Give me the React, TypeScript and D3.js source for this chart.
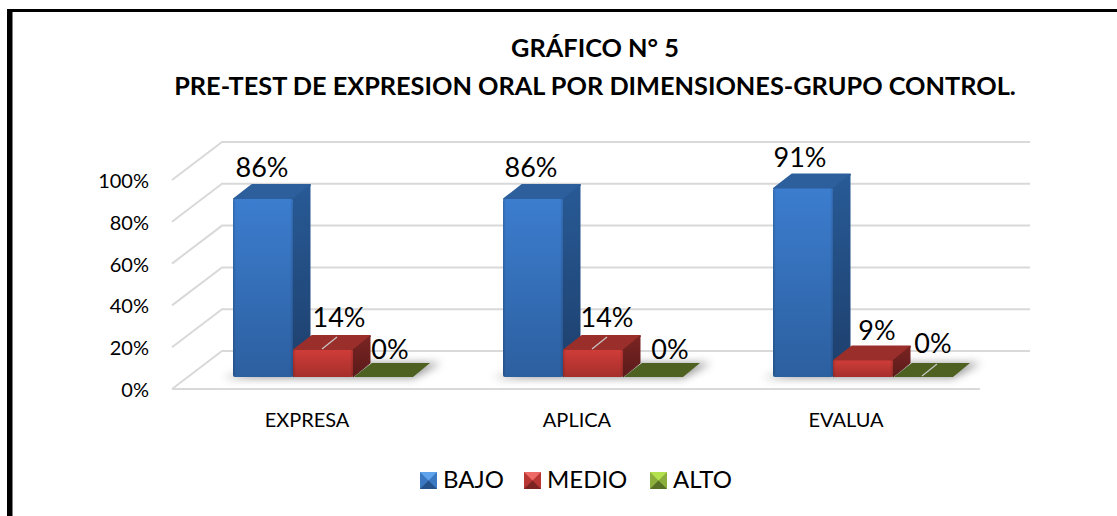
import React from "react";
import * as d3 from "d3";

const categories = ["EXPRESA", "APLICA", "EVALUA"];
const seriesNames = ["BAJO", "MEDIO", "ALTO"];
const bajo = [86, 86, 91];
const medio = [14, 14, 9];
const alto = [0, 0, 0];
const seriesValues = [bajo, medio, alto];
const yTicks = [0, 20, 40, 60, 80, 100];
const titleLines = ["GRÁFICO N° 5", "PRE-TEST DE EXPRESION ORAL POR DIMENSIONES-GRUPO CONTROL."];
const font = "Lato, 'Open Sans', sans-serif";

const x0 = d3.scaleBand<string>().domain(categories).range([172, 982]);
const yFront = d3.scaleLinear().domain([0, 100]).range([389, 180]);
const DX = 50, DY = -38;
const bx = d3.scaleBand<string>().domain(seriesNames).range([0, 180]);
const BASE = 377;
const barY = d3.scaleLinear().domain([0, 100]).range([379.4, 169.7]);
const bdx = 18, bdy = -14;
const frontFill = ["url(#blue)", "url(#red)", "#4e6120"];
const sideFill = ["url(#blueS)", "url(#redS)", "#4e6120"];
const topFill = ["#2c5f9c", "#9a2e2a", "#4e6120"];
const legendTop = ["#5ea3ec", "#ee6a66", "#b4e24e"];
const legendSide = ["#3a78c2", "#b83633", "#8bae3c"];
const legendBottom = ["#24518a", "#7c2422", "#586f26"];
const legendX = [420, 524, 650];
// per category, per series: label offset from the bar's centre / top
const labelOffsets = [
  [[-1, -8], [16, -9], [7, -4]],
  [[-2, -8], [14, -9], [17, -4]],
  [[-3, -8], [14, -7], [10, -10]],
];

export default function App() {
  const groupX = (c: string) => (x0(c) as number) + 61;
  const top = (v: number) => Math.min(BASE, barY(v));
  return (
    <svg width={1117} height={516} style={{ position: "absolute", left: 0, top: 0, background: "#fff", fontFamily: font }}>
      <defs>
        <linearGradient id="blue" x1="0" y1="0" x2="0" y2="1"><stop offset="0" stopColor="#3c7dcf" /><stop offset="1" stopColor="#2c5f9f" /></linearGradient>
        <linearGradient id="blueS" x1="0" y1="0" x2="0" y2="1"><stop offset="0" stopColor="#285a96" /><stop offset="1" stopColor="#1d3f6c" /></linearGradient>
        <linearGradient id="red" x1="0" y1="0" x2="0" y2="1"><stop offset="0" stopColor="#cf3c38" /><stop offset="1" stopColor="#a52f2c" /></linearGradient>
        <linearGradient id="redS" x1="0" y1="0" x2="0" y2="1"><stop offset="0" stopColor="#7a2422" /><stop offset="1" stopColor="#5a1b1a" /></linearGradient>
        <linearGradient id="edge" x1="0" y1="0" x2="1" y2="0">
          <stop offset="0" stopColor="#000" stopOpacity="0.16" /><stop offset="0.05" stopColor="#000" stopOpacity="0" />
          <stop offset="0.95" stopColor="#000" stopOpacity="0" /><stop offset="1" stopColor="#000" stopOpacity="0.16" />
        </linearGradient>
        <filter id="blur" x="-30%" y="-100%" width="160%" height="300%"><feGaussianBlur stdDeviation="4" /></filter>
      </defs>
      <rect x={7} y={9} width={1110} height={3} fill="#000" />
      <rect x={7} y={9} width={5.5} height={507} fill="#000" />
      {titleLines.map((t, i) => (
        <text key={t} x={595} y={57 + i * 38} textAnchor="middle" fontSize={25.3} fontWeight={700} fill="#000">{t}</text>
      ))}
      {yTicks.map((t) => {
        const y = yFront(t);
        return (
          <g key={t}>
            <polyline points={`172,${y} ${172 + DX},${y + DY} 1030,${y + DY}`} fill="none" stroke="#d9d9d9" strokeWidth={2} />
            <text x={149} y={y + 8} textAnchor="end" fontSize={20} fill="#000">{d3.format(".0f")(t)}%</text>
          </g>
        );
      })}
      <line x1={172} x2={980} y1={yFront(0)} y2={yFront(0)} stroke="#d9d9d9" strokeWidth={2} />
      {categories.map((c, ci) => {
        const gx = groupX(c);
        const left = gx, right = gx + 180;
        return (
          <g key={c}>
            <polygon points={`${left - 10},${BASE + 1} ${right},${BASE + 1} ${right + bdx + 10},${BASE + bdy} ${left + 50},${BASE + bdy}`} fill="#444" opacity={0.55} filter="url(#blur)" />
            {[...seriesNames.keys()].map((si) => {
              const s = seriesNames[si];
              const v = seriesValues[si][ci];
              const x = gx + (bx(s) as number);
              const w = bx.bandwidth();
              const y = top(v);
              const h = BASE - y;
              return (
                <g key={s}>
                  <polygon points={`${x + 1},${y} ${x + bdx + 1},${y + bdy} ${x + w + bdx - 1},${y + bdy} ${x + w},${y}`} fill={topFill[si]} stroke={topFill[si]} strokeWidth={h > 0 ? 2 : 0} strokeLinejoin="round" />
                  {h > 0 && <polygon points={`${x + w},${y} ${x + w + bdx - 1},${y + bdy} ${x + w + bdx - 1},${BASE + bdy} ${x + w},${BASE}`} fill={sideFill[si]} stroke={sideFill[si]} strokeWidth={1} strokeLinejoin="round" />}
                  {h > 0 && <rect x={x} y={y} width={w} height={h} rx={2} fill={frontFill[si]} />}
                  {h > 0 && <rect x={x} y={y} width={w} height={h} rx={2} fill="url(#edge)" />}
                </g>
              );
            })}
            {[...seriesNames.keys()].map((si) => {
              const s = seriesNames[si];
              const v = seriesValues[si][ci];
              const x = gx + (bx(s) as number);
              const w = bx.bandwidth();
              return (
                <text key={s} x={x + w / 2 + labelOffsets[ci][si][0]} y={top(v) + bdy + labelOffsets[ci][si][1]} textAnchor="middle" fontSize={27} fill="#000">{v}%</text>
              );
            })}
            <text x={(x0(c) as number) + x0.bandwidth() / 2 - (ci === 2 ? 1 : 0)} y={427} textAnchor="middle" fontSize={20} fill="#000">{c}</text>
          </g>
        );
      })}
      {categories.map((c, ci) => {
        const gx = groupX(c);
        const si = ci === 2 ? 2 : 1;
        const x = gx + (bx(seriesNames[si]) as number) + 29;
        const y = top(seriesValues[si][ci]) - 1;
        return <line key={c} x1={x} y1={y} x2={x + 15} y2={y - 12} stroke="#c8c8c8" strokeWidth={1.3} />;
      })}
      {seriesNames.map((s, i) => {
        const x = legendX[i], y = 472, z = 17, m = z / 2;
        return (
          <g key={s}>
            <rect x={x} y={y} width={z} height={z} fill={legendSide[i]} />
            <polygon points={`${x},${y} ${x + z},${y} ${x + m},${y + m}`} fill={legendTop[i]} />
            <polygon points={`${x},${y + z} ${x + z},${y + z} ${x + m},${y + m}`} fill={legendBottom[i]} />
            <text x={x + 23} y={488} fontSize={24} fill="#000">{s}</text>
          </g>
        );
      })}
    </svg>
  );
}
